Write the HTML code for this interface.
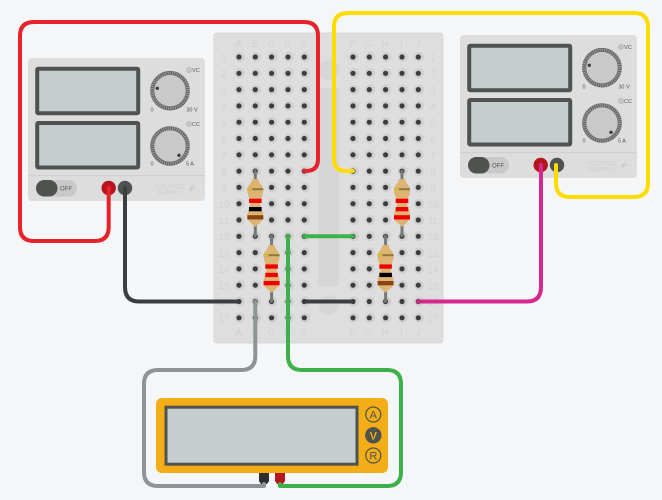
<!DOCTYPE html>
<html><head><meta charset="utf-8"><style>
html,body{margin:0;padding:0;background:#f4f6f8;width:662px;height:500px;overflow:hidden}
svg{display:block}
text{font-family:"Liberation Sans",sans-serif}
.bb{font-size:10px;fill:#d2d2d2;text-anchor:middle}
.s{font-size:5.5px;fill:#555;text-anchor:middle}
.vs{font-size:6.5px;fill:#cdcdcd;text-anchor:middle}
.w{fill:none;stroke-width:4;stroke-linecap:round;stroke-linejoin:round}
.m{font-size:11px;text-anchor:middle}
</style></head><body>
<svg width="662" height="500" viewBox="0 0 662 500" xmlns="http://www.w3.org/2000/svg">
<defs>
<g id="h"><circle cx="0.7" r="5" fill="#d0d0d0"/><circle r="2.6" fill="#3b3e40"/></g>
<g id="row">
<use href="#h" x="239"/><use href="#h" x="255.3"/><use href="#h" x="271.6"/><use href="#h" x="288"/><use href="#h" x="304.3"/>
<use href="#h" x="353"/><use href="#h" x="369.3"/><use href="#h" x="385.6"/><use href="#h" x="402"/><use href="#h" x="418.3"/>
</g>
<g id="res">
<path d="M-3.5 0 C-2 3,-8 6,-8 11 C-8 17,-5 19,-5 24 C-5 29,-8 31,-8 37 C-8 43,-2 45,0 48 C2 45,8 43,8 37 C8 31,5 29,5 24 C5 19,8 17,8 11 C8 6,2 3,3.5 0 Z" fill="#dfb473"/>
<rect x="-8" y="9.2" width="16" height="2" fill="#8a7a3c"/>
<rect x="-8" y="9.2" width="5" height="2" fill="#d8c030"/>
</g>
<g id="knob">
<circle r="19.8" fill="#5b5e5d"/>
<circle r="17.8" fill="none" stroke="#9c9c9c" stroke-width="3.2" stroke-dasharray="1.1 1.1"/>
<circle r="15.8" fill="#c9c9c9"/>
</g>
<g id="supply">
<rect x="28" y="58" width="177" height="143" rx="4" fill="#dddddd"/>
<rect x="28" y="175" width="177" height="1.2" fill="#d0d0d0"/>
<rect x="37.2" y="68.7" width="101" height="44.5" rx="1" fill="#c5cdce" stroke="#4f5350" stroke-width="4"/>
<rect x="37.2" y="123" width="101" height="44.5" rx="1" fill="#c5cdce" stroke="#4f5350" stroke-width="4"/>
<use href="#knob" x="170" y="90.7"/>
<use href="#knob" x="170" y="146"/>
<circle cx="157.3" cy="88.3" r="1.7" fill="#3b3e40"/>
<circle cx="179" cy="155.3" r="1.7" fill="#3b3e40"/>
<circle cx="189" cy="70" r="2.6" fill="#c6c6c6" stroke="#bbb" stroke-width=".8"/>
<circle cx="189" cy="124" r="2.6" fill="#c6c6c6" stroke="#bbb" stroke-width=".8"/>
<text class="s" x="196" y="72">VC</text>
<text class="s" x="196" y="126">CC</text>
<text class="s" x="152" y="111.5">0</text>
<text class="s" x="192" y="111.5">30 V</text>
<text class="s" x="152" y="165.5">0</text>
<text class="s" x="190" y="165.5">5 A</text>
<rect x="36" y="180" width="41" height="16.5" rx="8.2" fill="#c9c9c9"/>
<rect x="36" y="180" width="21.5" height="16.5" rx="8.2" fill="#4f5350"/>
<text class="s" x="66" y="190.500" style="font-size:6px">OFF</text>
<circle cx="108.7" cy="188" r="7.2" fill="#b5161e"/>
<circle cx="125" cy="188" r="7.2" fill="#4f5350"/>
<text class="vs" x="170" y="188.500">VOLTAGE</text>
<text class="vs" x="170" y="194.500">SUPPLY</text>
<path d="M195 182 L188 190 L191 190 L188 194 L195 187 L192 187 Z" fill="#cdcdcd"/>
</g>
</defs>

<rect width="662" height="500" fill="#f4f6f8"/>

<!-- breadboard -->
<rect x="214" y="33" width="229" height="310" rx="3" fill="#dedede" stroke="#d6d6d6"/>
<circle cx="329" cy="70" r="10" fill="#d6d6d6"/>
<rect x="318" y="88" width="21" height="198" rx="1" fill="#d6d6d6"/>
<circle cx="329" cy="305" r="10" fill="#d6d6d6"/>

<g>
<text class="bb" x="238.500" y="47">A</text><text class="bb" x="255" y="47">B</text><text class="bb" x="271.500" y="47">C</text><text class="bb" x="287.500" y="47">D</text><text class="bb" x="304" y="47">E</text>
<text class="bb" x="352.500" y="47">F</text><text class="bb" x="368.500" y="47">G</text><text class="bb" x="385" y="47">H</text><text class="bb" x="401.500" y="47">I</text><text class="bb" x="418" y="47">J</text>
<text class="bb" x="238.500" y="336">A</text><text class="bb" x="255" y="336">B</text><text class="bb" x="271.500" y="336">C</text><text class="bb" x="287.500" y="336">D</text><text class="bb" x="304" y="336">E</text>
<text class="bb" x="352.500" y="336">F</text><text class="bb" x="368.500" y="336">G</text><text class="bb" x="385" y="336">H</text><text class="bb" x="401.500" y="336">I</text><text class="bb" x="418" y="336">J</text>
<text class="bb" x="224" y="61">1</text><text class="bb" x="433" y="61">1</text>
<text class="bb" x="224" y="77">2</text><text class="bb" x="433" y="77">2</text>
<text class="bb" x="224" y="94">3</text><text class="bb" x="433" y="94">3</text>
<text class="bb" x="224" y="110">4</text><text class="bb" x="433" y="110">4</text>
<text class="bb" x="224" y="126">5</text><text class="bb" x="433" y="126">5</text>
<text class="bb" x="224" y="143">6</text><text class="bb" x="433" y="143">6</text>
<text class="bb" x="224" y="159">7</text><text class="bb" x="433" y="159">7</text>
<text class="bb" x="224" y="175">8</text><text class="bb" x="433" y="175">8</text>
<text class="bb" x="224" y="191">9</text><text class="bb" x="433" y="191">9</text>
<text class="bb" x="224" y="208">10</text><text class="bb" x="433" y="208">10</text>
<text class="bb" x="224" y="224">11</text><text class="bb" x="433" y="224">11</text>
<text class="bb" x="224" y="240">12</text><text class="bb" x="433" y="240">12</text>
<text class="bb" x="224" y="257">13</text><text class="bb" x="433" y="257">13</text>
<text class="bb" x="224" y="273">14</text><text class="bb" x="433" y="273">14</text>
<text class="bb" x="224" y="289">15</text><text class="bb" x="433" y="289">15</text>
<text class="bb" x="224" y="305">16</text><text class="bb" x="433" y="305">16</text>
<text class="bb" x="224" y="322">17</text><text class="bb" x="433" y="322">17</text>
</g>

<use href="#row" y="57"/><use href="#row" y="73.3"/><use href="#row" y="89.6"/><use href="#row" y="105.900"/>
<use href="#row" y="122.200"/><use href="#row" y="138.500"/><use href="#row" y="154.800"/><use href="#row" y="171.100"/>
<use href="#row" y="187.400"/><use href="#row" y="203.700"/><use href="#row" y="220"/><use href="#row" y="236.300"/>
<use href="#row" y="252.600"/><use href="#row" y="268.900"/><use href="#row" y="285.200"/><use href="#row" y="301.500"/>
<use href="#row" y="317.800"/>

<!-- resistors -->
<g stroke="#75797a" stroke-width="3" stroke-linecap="round">
<line x1="255.300" y1="171" x2="255.300" y2="236"/>
<line x1="271.600" y1="236" x2="271.600" y2="301.500"/>
<line x1="402" y1="171" x2="402" y2="236"/>
<line x1="385.600" y1="236" x2="385.600" y2="301.500"/>
</g>
<use href="#res" x="255.300" y="179"/>
<rect x="249" y="198.700" width="12.600" height="4.300" fill="#f00000"/><rect x="249" y="207" width="12.600" height="4.300" fill="#000"/><rect x="247.300" y="215.200" width="16" height="4.300" fill="#8b4513"/>
<use href="#res" x="271.600" y="245"/>
<rect x="265.300" y="264.400" width="12.600" height="4.300" fill="#f00000"/><rect x="265.300" y="272.800" width="12.600" height="4.300" fill="#f00000"/><rect x="263.600" y="281" width="16" height="4.300" fill="#f00000"/>
<use href="#res" x="402" y="179"/>
<rect x="395.700" y="198.700" width="12.600" height="4.300" fill="#f00000"/><rect x="395.700" y="207" width="12.600" height="4.300" fill="#f00000"/><rect x="394" y="215.200" width="16" height="4.300" fill="#f00000"/>
<use href="#res" x="385.600" y="245"/>
<rect x="379.300" y="264.400" width="12.600" height="4.300" fill="#f00000"/><rect x="379.300" y="272.800" width="12.600" height="4.300" fill="#000"/><rect x="377.600" y="281" width="16" height="4.300" fill="#8b4513"/>

<!-- supplies -->
<use href="#supply"/>
<use href="#supply" x="432" y="-23"/>

<!-- multimeter -->
<rect x="156" y="398" width="232" height="75" rx="6" fill="#f3ae17"/>
<rect x="166" y="407.200" width="191" height="57" fill="#c5cdce" stroke="#4f5350" stroke-width="3"/>
<circle cx="373.300" cy="414.500" r="7.500" fill="none" stroke="#4f5350" stroke-width="1.200"/>
<circle cx="373.300" cy="435.300" r="8.200" fill="#4f5350"/>
<circle cx="373.300" cy="455.500" r="7.500" fill="none" stroke="#4f5350" stroke-width="1.200"/>
<text class="m" x="373.300" y="418.500" fill="#4f5350">A</text>
<text class="m" x="373.300" y="439.300" fill="#f3ae17" font-weight="bold">V</text>
<text class="m" x="373.300" y="459.500" fill="#4f5350">R</text>
<path d="M259 473 H269 V481 L267 484 H261 L259 481 Z" fill="#2c2e30"/>
<path d="M275 473 H285 V481 L283 484 H277 L275 481 Z" fill="#b5161e"/>

<!-- wires -->
<path class="w" stroke="#e6222a" d="M108.700 188 V227 Q108.700 241 94.700 241 H34 Q20 241 20 227 V36 Q20 22 34 22 H304 Q318 22 318 36 V159 Q318 171 306 171 H304.300"/>
<path class="w" stroke="#ffdc00" d="M353 171 H346 Q334 171 334 159 V27 Q334 13 348 13 H634 Q648 13 648 27 V183 Q648 197 634 197 H570 Q556 197 556 183 V165"/>
<path class="w" stroke="#3b3e40" d="M125 188 V287 Q125 301.500 139 301.500 H239"/>
<path class="w" stroke="#3b3e40" d="M304.300 301.500 H353"/>
<path class="w" stroke="#d6278f" d="M418.300 301.500 H527 Q541 301.500 541 287 V165"/>
<path class="w" stroke="#3eb049" d="M288 236 V356 Q288 370 302 370 H387 Q401 370 401 384 V472 Q401 486 387 486 H280 V484"/>
<path class="w" stroke="#3eb049" d="M304.300 236.300 H353"/>
<path class="w" stroke="#8e9496" d="M255.300 301.500 V356 Q255.300 370 241 370 H158 Q144 370 144 384 V472 Q144 486 158 486 H264 V484"/>
</svg>
</body></html>
